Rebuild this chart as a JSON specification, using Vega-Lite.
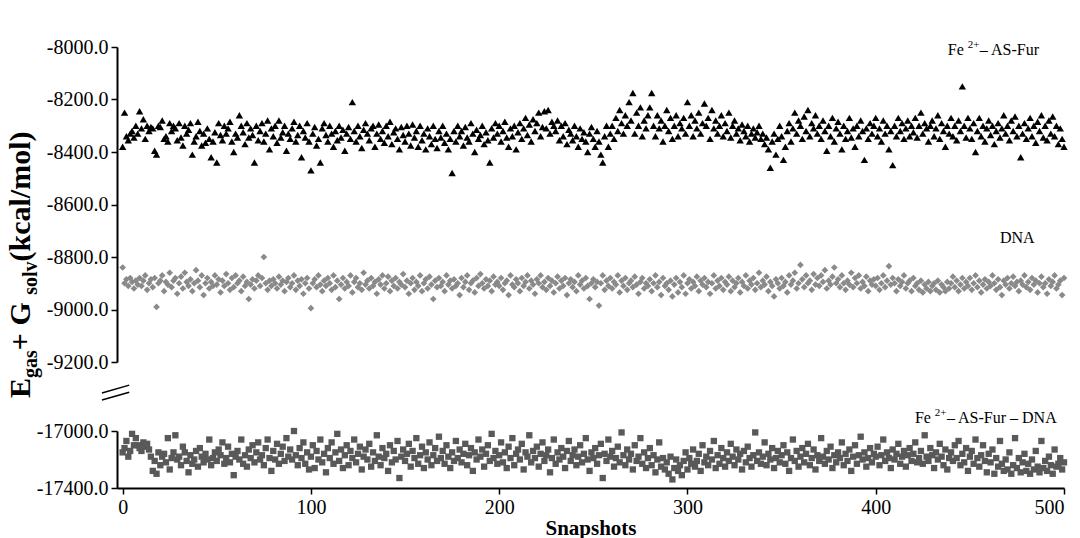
{
"$schema": "https://vega.github.io/schema/vega-lite/v6.json",
"background": "white",
"padding": {"left": 6, "top": 37, "right": 2, "bottom": 0},
"config": {"view": {"stroke": null}, "font": "Liberation Serif",
 "axis": {"domainColor": "black", "domainWidth": 2, "tickColor": "black", "tickWidth": 1.5, "tickSize": 6, "labelFont": "Liberation Serif", "labelFontSize": 20, "labelColor": "black", "grid": false, "titleFont": "Liberation Serif", "titleColor": "black"},
 "text": {"font": "Liberation Serif"}},
"data": {"values": [
{"s":0,"a":-8380,"d":-8840,"c":-17150},{"s":1,"a":-8250,"d":-8900,"c":-17120},{"s":2,"a":-8340,"d":-8885,"c":-17070},{"s":3,"a":-8355,"d":-8910,"c":-17180},{"s":4,"a":-8330,"d":-8880,"c":-17140},{"s":5,"a":-8320,"d":-8895,"c":-17020},{"s":6,"a":-8345,"d":-8920,"c":-17100},{"s":7,"a":-8300,"d":-8890,"c":-17050},{"s":8,"a":-8330,"d":-8905,"c":-17100},{"s":9,"a":-8245,"d":-8880,"c":-17120},
{"s":10,"a":-8310,"d":-8910,"c":-17140},{"s":11,"a":-8275,"d":-8890,"c":-17080},{"s":12,"a":-8350,"d":-8870,"c":-17110},{"s":13,"a":-8300,"d":-8925,"c":-17090},{"s":14,"a":-8320,"d":-8900,"c":-17130},{"s":15,"a":-8305,"d":-8885,"c":-17180},{"s":16,"a":-8310,"d":-8915,"c":-17280},{"s":17,"a":-8395,"d":-8880,"c":-17210},{"s":18,"a":-8410,"d":-8990,"c":-17300},{"s":19,"a":-8300,"d":-8900,"c":-17150},
{"s":20,"a":-8305,"d":-8890,"c":-17240},{"s":21,"a":-8280,"d":-8870,"c":-17180},{"s":22,"a":-8350,"d":-8930,"c":-17160},{"s":23,"a":-8340,"d":-8895,"c":-17220},{"s":24,"a":-8360,"d":-8905,"c":-17050},{"s":25,"a":-8290,"d":-8860,"c":-17270},{"s":26,"a":-8320,"d":-8915,"c":-17190},{"s":27,"a":-8300,"d":-8890,"c":-17150},{"s":28,"a":-8310,"d":-8880,"c":-17030},{"s":29,"a":-8355,"d":-8940,"c":-17200},
{"s":30,"a":-8290,"d":-8900,"c":-17180},{"s":31,"a":-8345,"d":-8875,"c":-17240},{"s":32,"a":-8375,"d":-8920,"c":-17110},{"s":33,"a":-8300,"d":-8860,"c":-17150},{"s":34,"a":-8330,"d":-8895,"c":-17210},{"s":35,"a":-8315,"d":-8910,"c":-17290},{"s":36,"a":-8290,"d":-8885,"c":-17170},{"s":37,"a":-8410,"d":-8930,"c":-17230},{"s":38,"a":-8360,"d":-8900,"c":-17200},{"s":39,"a":-8340,"d":-8850,"c":-17140},
{"s":40,"a":-8285,"d":-8890,"c":-17250},{"s":41,"a":-8320,"d":-8915,"c":-17120},{"s":42,"a":-8375,"d":-8870,"c":-17180},{"s":43,"a":-8330,"d":-8945,"c":-17220},{"s":44,"a":-8365,"d":-8900,"c":-17160},{"s":45,"a":-8310,"d":-8880,"c":-17200},{"s":46,"a":-8350,"d":-8920,"c":-17060},{"s":47,"a":-8420,"d":-8895,"c":-17240},{"s":48,"a":-8360,"d":-8910,"c":-17190},{"s":49,"a":-8325,"d":-8870,"c":-17150},
{"s":50,"a":-8440,"d":-8905,"c":-17210},{"s":51,"a":-8290,"d":-8885,"c":-17130},{"s":52,"a":-8335,"d":-8935,"c":-17170},{"s":53,"a":-8355,"d":-8890,"c":-17080},{"s":54,"a":-8300,"d":-8910,"c":-17230},{"s":55,"a":-8330,"d":-8865,"c":-17190},{"s":56,"a":-8310,"d":-8900,"c":-17110},{"s":57,"a":-8285,"d":-8925,"c":-17220},{"s":58,"a":-8360,"d":-8880,"c":-17160},{"s":59,"a":-8400,"d":-8915,"c":-17310},
{"s":60,"a":-8330,"d":-8870,"c":-17180},{"s":61,"a":-8345,"d":-8900,"c":-17140},{"s":62,"a":-8260,"d":-8890,"c":-17200},{"s":63,"a":-8300,"d":-8930,"c":-17060},{"s":64,"a":-8325,"d":-8875,"c":-17230},{"s":65,"a":-8370,"d":-8910,"c":-17170},{"s":66,"a":-8290,"d":-8895,"c":-17250},{"s":67,"a":-8345,"d":-8960,"c":-17130},{"s":68,"a":-8310,"d":-8905,"c":-17190},{"s":69,"a":-8335,"d":-8885,"c":-17100},
{"s":70,"a":-8440,"d":-8920,"c":-17220},{"s":71,"a":-8300,"d":-8890,"c":-17150},{"s":72,"a":-8355,"d":-8870,"c":-17080},{"s":73,"a":-8320,"d":-8910,"c":-17200},{"s":74,"a":-8290,"d":-8880,"c":-17170},{"s":75,"a":-8360,"d":-8800,"c":-17240},{"s":76,"a":-8330,"d":-8900,"c":-17120},{"s":77,"a":-8280,"d":-8925,"c":-17060},{"s":78,"a":-8390,"d":-8890,"c":-17190},{"s":79,"a":-8310,"d":-8910,"c":-17280},
{"s":80,"a":-8340,"d":-8885,"c":-17140},{"s":81,"a":-8300,"d":-8900,"c":-17200},{"s":82,"a":-8365,"d":-8920,"c":-17090},{"s":83,"a":-8280,"d":-8875,"c":-17230},{"s":84,"a":-8345,"d":-8905,"c":-17160},{"s":85,"a":-8325,"d":-8890,"c":-17110},{"s":86,"a":-8300,"d":-8930,"c":-17210},{"s":87,"a":-8395,"d":-8895,"c":-17050},{"s":88,"a":-8330,"d":-8880,"c":-17180},{"s":89,"a":-8350,"d":-8915,"c":-17130},
{"s":90,"a":-8310,"d":-8900,"c":-17200},{"s":91,"a":-8285,"d":-8870,"c":-17000},{"s":92,"a":-8360,"d":-8925,"c":-17170},{"s":93,"a":-8335,"d":-8890,"c":-17240},{"s":94,"a":-8300,"d":-8910,"c":-17120},{"s":95,"a":-8420,"d":-8885,"c":-17190},{"s":96,"a":-8320,"d":-8940,"c":-17080},{"s":97,"a":-8345,"d":-8900,"c":-17230},{"s":98,"a":-8290,"d":-8880,"c":-17150},{"s":99,"a":-8360,"d":-8920,"c":-17270},
{"s":100,"a":-8470,"d":-8995,"c":-17180},{"s":101,"a":-8330,"d":-8900,"c":-17100},{"s":102,"a":-8305,"d":-8885,"c":-17260},{"s":103,"a":-8375,"d":-8915,"c":-17140},{"s":104,"a":-8350,"d":-8870,"c":-17200},{"s":105,"a":-8440,"d":-8905,"c":-17060},{"s":106,"a":-8310,"d":-8930,"c":-17220},{"s":107,"a":-8290,"d":-8890,"c":-17160},{"s":108,"a":-8335,"d":-8910,"c":-17290},{"s":109,"a":-8360,"d":-8880,"c":-17120},
{"s":110,"a":-8300,"d":-8900,"c":-17190},{"s":111,"a":-8330,"d":-8925,"c":-17080},{"s":112,"a":-8380,"d":-8870,"c":-17230},{"s":113,"a":-8320,"d":-8915,"c":-17150},{"s":114,"a":-8355,"d":-8890,"c":-17020},{"s":115,"a":-8300,"d":-8960,"c":-17210},{"s":116,"a":-8345,"d":-8905,"c":-17130},{"s":117,"a":-8315,"d":-8880,"c":-17260},{"s":118,"a":-8395,"d":-8920,"c":-17170},{"s":119,"a":-8330,"d":-8895,"c":-17100},
{"s":120,"a":-8305,"d":-8910,"c":-17240},{"s":121,"a":-8350,"d":-8870,"c":-17140},{"s":122,"a":-8210,"d":-8935,"c":-17190},{"s":123,"a":-8320,"d":-8895,"c":-17060},{"s":124,"a":-8360,"d":-8880,"c":-17220},{"s":125,"a":-8300,"d":-8915,"c":-17160},{"s":126,"a":-8340,"d":-8900,"c":-17110},{"s":127,"a":-8385,"d":-8925,"c":-17270},{"s":128,"a":-8315,"d":-8860,"c":-17180},{"s":129,"a":-8290,"d":-8905,"c":-17130},
{"s":130,"a":-8330,"d":-8890,"c":-17200},{"s":131,"a":-8355,"d":-8920,"c":-17090},{"s":132,"a":-8310,"d":-8880,"c":-17250},{"s":133,"a":-8300,"d":-8910,"c":-17150},{"s":134,"a":-8380,"d":-8895,"c":-17210},{"s":135,"a":-8330,"d":-8940,"c":-17030},{"s":136,"a":-8295,"d":-8885,"c":-17180},{"s":137,"a":-8350,"d":-8905,"c":-17240},{"s":138,"a":-8320,"d":-8870,"c":-17120},{"s":139,"a":-8365,"d":-8920,"c":-17190},
{"s":140,"a":-8300,"d":-8900,"c":-17160},{"s":141,"a":-8340,"d":-8875,"c":-17280},{"s":142,"a":-8285,"d":-8930,"c":-17100},{"s":143,"a":-8370,"d":-8890,"c":-17220},{"s":144,"a":-8325,"d":-8910,"c":-17140},{"s":145,"a":-8310,"d":-8880,"c":-17200},{"s":146,"a":-8350,"d":-8920,"c":-17070},{"s":147,"a":-8390,"d":-8895,"c":-17330},{"s":148,"a":-8305,"d":-8905,"c":-17180},{"s":149,"a":-8335,"d":-8865,"c":-17130},
{"s":150,"a":-8360,"d":-8915,"c":-17210},{"s":151,"a":-8300,"d":-8890,"c":-17160},{"s":152,"a":-8330,"d":-8940,"c":-17090},{"s":153,"a":-8375,"d":-8900,"c":-17250},{"s":154,"a":-8295,"d":-8880,"c":-17140},{"s":155,"a":-8345,"d":-8925,"c":-17190},{"s":156,"a":-8320,"d":-8895,"c":-17050},{"s":157,"a":-8380,"d":-8910,"c":-17230},{"s":158,"a":-8300,"d":-8870,"c":-17170},{"s":159,"a":-8355,"d":-8930,"c":-17110},
{"s":160,"a":-8330,"d":-8900,"c":-17260},{"s":161,"a":-8390,"d":-8885,"c":-17150},{"s":162,"a":-8310,"d":-8920,"c":-17200},{"s":163,"a":-8340,"d":-8875,"c":-17080},{"s":164,"a":-8370,"d":-8905,"c":-17240},{"s":165,"a":-8300,"d":-8960,"c":-17170},{"s":166,"a":-8350,"d":-8890,"c":-17120},{"s":167,"a":-8385,"d":-8915,"c":-17210},{"s":168,"a":-8320,"d":-8880,"c":-17040},{"s":169,"a":-8345,"d":-8910,"c":-17190},
{"s":170,"a":-8300,"d":-8895,"c":-17140},{"s":171,"a":-8365,"d":-8930,"c":-17230},{"s":172,"a":-8330,"d":-8870,"c":-17100},{"s":173,"a":-8390,"d":-8905,"c":-17180},{"s":174,"a":-8350,"d":-8890,"c":-17260},{"s":175,"a":-8480,"d":-8920,"c":-17150},{"s":176,"a":-8320,"d":-8885,"c":-17210},{"s":177,"a":-8360,"d":-8910,"c":-17070},{"s":178,"a":-8300,"d":-8900,"c":-17190},{"s":179,"a":-8340,"d":-8945,"c":-17130},
{"s":180,"a":-8320,"d":-8880,"c":-17220},{"s":181,"a":-8375,"d":-8915,"c":-17160},{"s":182,"a":-8305,"d":-8895,"c":-17090},{"s":183,"a":-8345,"d":-8870,"c":-17240},{"s":184,"a":-8360,"d":-8925,"c":-17170},{"s":185,"a":-8290,"d":-8900,"c":-17120},{"s":186,"a":-8330,"d":-8890,"c":-17280},{"s":187,"a":-8400,"d":-8935,"c":-17150},{"s":188,"a":-8315,"d":-8880,"c":-17200},{"s":189,"a":-8350,"d":-8910,"c":-17060},
{"s":190,"a":-8335,"d":-8865,"c":-17180},{"s":191,"a":-8300,"d":-8900,"c":-17130},{"s":192,"a":-8370,"d":-8920,"c":-17250},{"s":193,"a":-8325,"d":-8885,"c":-17160},{"s":194,"a":-8355,"d":-8910,"c":-17100},{"s":195,"a":-8440,"d":-8890,"c":-17210},{"s":196,"a":-8310,"d":-8930,"c":-17020},{"s":197,"a":-8345,"d":-8875,"c":-17190},{"s":198,"a":-8290,"d":-8905,"c":-17140},{"s":199,"a":-8330,"d":-8895,"c":-17230},
{"s":200,"a":-8300,"d":-8910,"c":-17170},{"s":201,"a":-8360,"d":-8880,"c":-17080},{"s":202,"a":-8320,"d":-8925,"c":-17220},{"s":203,"a":-8285,"d":-8900,"c":-17150},{"s":204,"a":-8345,"d":-8890,"c":-17260},{"s":205,"a":-8380,"d":-8945,"c":-17110},{"s":206,"a":-8310,"d":-8870,"c":-17190},{"s":207,"a":-8340,"d":-8905,"c":-17050},{"s":208,"a":-8300,"d":-8915,"c":-17240},{"s":209,"a":-8390,"d":-8885,"c":-17160},
{"s":210,"a":-8325,"d":-8900,"c":-17130},{"s":211,"a":-8290,"d":-8930,"c":-17200},{"s":212,"a":-8350,"d":-8880,"c":-17090},{"s":213,"a":-8310,"d":-8910,"c":-17270},{"s":214,"a":-8270,"d":-8895,"c":-17150},{"s":215,"a":-8335,"d":-8870,"c":-17180},{"s":216,"a":-8295,"d":-8920,"c":-17030},{"s":217,"a":-8360,"d":-8890,"c":-17220},{"s":218,"a":-8275,"d":-8905,"c":-17140},{"s":219,"a":-8320,"d":-8940,"c":-17190},
{"s":220,"a":-8290,"d":-8885,"c":-17110},{"s":221,"a":-8250,"d":-8900,"c":-17250},{"s":222,"a":-8340,"d":-8870,"c":-17160},{"s":223,"a":-8305,"d":-8915,"c":-17080},{"s":224,"a":-8245,"d":-8895,"c":-17210},{"s":225,"a":-8310,"d":-8925,"c":-17170},{"s":226,"a":-8240,"d":-8880,"c":-17130},{"s":227,"a":-8330,"d":-8910,"c":-17290},{"s":228,"a":-8285,"d":-8890,"c":-17190},{"s":229,"a":-8300,"d":-8935,"c":-17060},
{"s":230,"a":-8320,"d":-8900,"c":-17230},{"s":231,"a":-8280,"d":-8875,"c":-17150},{"s":232,"a":-8355,"d":-8920,"c":-17200},{"s":233,"a":-8300,"d":-8890,"c":-17120},{"s":234,"a":-8340,"d":-8910,"c":-17180},{"s":235,"a":-8290,"d":-8880,"c":-17260},{"s":236,"a":-8370,"d":-8945,"c":-17140},{"s":237,"a":-8315,"d":-8900,"c":-17070},{"s":238,"a":-8330,"d":-8885,"c":-17210},{"s":239,"a":-8355,"d":-8915,"c":-17170},
{"s":240,"a":-8300,"d":-8895,"c":-17130},{"s":241,"a":-8340,"d":-8930,"c":-17240},{"s":242,"a":-8380,"d":-8870,"c":-17180},{"s":243,"a":-8310,"d":-8905,"c":-17100},{"s":244,"a":-8350,"d":-8890,"c":-17220},{"s":245,"a":-8325,"d":-8920,"c":-17160},{"s":246,"a":-8360,"d":-8880,"c":-17050},{"s":247,"a":-8400,"d":-8910,"c":-17200},{"s":248,"a":-8330,"d":-8960,"c":-17280},{"s":249,"a":-8305,"d":-8900,"c":-17150},
{"s":250,"a":-8350,"d":-8885,"c":-17190},{"s":251,"a":-8380,"d":-8915,"c":-17120},{"s":252,"a":-8320,"d":-8895,"c":-17230},{"s":253,"a":-8360,"d":-8985,"c":-17170},{"s":254,"a":-8410,"d":-8900,"c":-17090},{"s":255,"a":-8440,"d":-8870,"c":-17330},{"s":256,"a":-8340,"d":-8925,"c":-17160},{"s":257,"a":-8300,"d":-8890,"c":-17210},{"s":258,"a":-8380,"d":-8910,"c":-17060},{"s":259,"a":-8330,"d":-8880,"c":-17180},
{"s":260,"a":-8300,"d":-8920,"c":-17140},{"s":261,"a":-8350,"d":-8895,"c":-17250},{"s":262,"a":-8270,"d":-8905,"c":-17190},{"s":263,"a":-8320,"d":-8870,"c":-17110},{"s":264,"a":-8240,"d":-8935,"c":-17220},{"s":265,"a":-8290,"d":-8890,"c":-17010},{"s":266,"a":-8330,"d":-8910,"c":-17170},{"s":267,"a":-8260,"d":-8880,"c":-17240},{"s":268,"a":-8300,"d":-8925,"c":-17130},{"s":269,"a":-8210,"d":-8900,"c":-17200},
{"s":270,"a":-8280,"d":-8890,"c":-17160},{"s":271,"a":-8175,"d":-8915,"c":-17270},{"s":272,"a":-8330,"d":-8875,"c":-17100},{"s":273,"a":-8250,"d":-8905,"c":-17210},{"s":274,"a":-8300,"d":-8940,"c":-17180},{"s":275,"a":-8230,"d":-8895,"c":-17050},{"s":276,"a":-8340,"d":-8880,"c":-17230},{"s":277,"a":-8280,"d":-8920,"c":-17150},{"s":278,"a":-8310,"d":-8900,"c":-17260},{"s":279,"a":-8260,"d":-8910,"c":-17190},
{"s":280,"a":-8230,"d":-8885,"c":-17120},{"s":281,"a":-8175,"d":-8930,"c":-17240},{"s":282,"a":-8300,"d":-8900,"c":-17170},{"s":283,"a":-8340,"d":-8870,"c":-17290},{"s":284,"a":-8260,"d":-8915,"c":-17200},{"s":285,"a":-8310,"d":-8895,"c":-17080},{"s":286,"a":-8280,"d":-8945,"c":-17250},{"s":287,"a":-8360,"d":-8880,"c":-17190},{"s":288,"a":-8300,"d":-8910,"c":-17270},{"s":289,"a":-8240,"d":-8900,"c":-17220},
{"s":290,"a":-8320,"d":-8925,"c":-17300},{"s":291,"a":-8270,"d":-8890,"c":-17180},{"s":292,"a":-8350,"d":-8950,"c":-17340},{"s":293,"a":-8300,"d":-8905,"c":-17260},{"s":294,"a":-8260,"d":-8880,"c":-17200},{"s":295,"a":-8340,"d":-8935,"c":-17280},{"s":296,"a":-8290,"d":-8895,"c":-17240},{"s":297,"a":-8310,"d":-8915,"c":-17310},{"s":298,"a":-8270,"d":-8870,"c":-17210},{"s":299,"a":-8330,"d":-8940,"c":-17150},
{"s":300,"a":-8210,"d":-8900,"c":-17270},{"s":301,"a":-8300,"d":-8885,"c":-17190},{"s":302,"a":-8260,"d":-8920,"c":-17230},{"s":303,"a":-8340,"d":-8895,"c":-17130},{"s":304,"a":-8280,"d":-8910,"c":-17250},{"s":305,"a":-8310,"d":-8875,"c":-17210},{"s":306,"a":-8250,"d":-8930,"c":-17160},{"s":307,"a":-8330,"d":-8890,"c":-17280},{"s":308,"a":-8290,"d":-8905,"c":-17100},{"s":309,"a":-8215,"d":-8880,"c":-17220},
{"s":310,"a":-8300,"d":-8915,"c":-17180},{"s":311,"a":-8270,"d":-8895,"c":-17240},{"s":312,"a":-8350,"d":-8940,"c":-17140},{"s":313,"a":-8240,"d":-8900,"c":-17200},{"s":314,"a":-8310,"d":-8870,"c":-17070},{"s":315,"a":-8280,"d":-8920,"c":-17260},{"s":316,"a":-8330,"d":-8890,"c":-17170},{"s":317,"a":-8300,"d":-8910,"c":-17230},{"s":318,"a":-8260,"d":-8880,"c":-17120},{"s":319,"a":-8340,"d":-8925,"c":-17190},
{"s":320,"a":-8290,"d":-8895,"c":-17250},{"s":321,"a":-8320,"d":-8905,"c":-17150},{"s":322,"a":-8250,"d":-8875,"c":-17210},{"s":323,"a":-8345,"d":-8930,"c":-17090},{"s":324,"a":-8300,"d":-8890,"c":-17180},{"s":325,"a":-8280,"d":-8915,"c":-17240},{"s":326,"a":-8330,"d":-8900,"c":-17130},{"s":327,"a":-8310,"d":-8880,"c":-17200},{"s":328,"a":-8355,"d":-8935,"c":-17160},{"s":329,"a":-8295,"d":-8895,"c":-17270},
{"s":330,"a":-8320,"d":-8910,"c":-17140},{"s":331,"a":-8340,"d":-8870,"c":-17220},{"s":332,"a":-8300,"d":-8920,"c":-17110},{"s":333,"a":-8360,"d":-8890,"c":-17190},{"s":334,"a":-8330,"d":-8905,"c":-17250},{"s":335,"a":-8310,"d":-8880,"c":-17170},{"s":336,"a":-8345,"d":-8925,"c":-17010},{"s":337,"a":-8325,"d":-8900,"c":-17210},{"s":338,"a":-8300,"d":-8860,"c":-17150},{"s":339,"a":-8350,"d":-8915,"c":-17230},
{"s":340,"a":-8330,"d":-8890,"c":-17180},{"s":341,"a":-8370,"d":-8905,"c":-17080},{"s":342,"a":-8345,"d":-8875,"c":-17240},{"s":343,"a":-8390,"d":-8930,"c":-17160},{"s":344,"a":-8460,"d":-8895,"c":-17200},{"s":345,"a":-8360,"d":-8910,"c":-17120},{"s":346,"a":-8330,"d":-8950,"c":-17260},{"s":347,"a":-8410,"d":-8885,"c":-17190},{"s":348,"a":-8350,"d":-8900,"c":-17140},{"s":349,"a":-8300,"d":-8920,"c":-17220},
{"s":350,"a":-8340,"d":-8880,"c":-17170},{"s":351,"a":-8430,"d":-8910,"c":-17100},{"s":352,"a":-8380,"d":-8895,"c":-17230},{"s":353,"a":-8320,"d":-8935,"c":-17150},{"s":354,"a":-8290,"d":-8870,"c":-17280},{"s":355,"a":-8360,"d":-8905,"c":-17190},{"s":356,"a":-8310,"d":-8890,"c":-17060},{"s":357,"a":-8250,"d":-8860,"c":-17210},{"s":358,"a":-8330,"d":-8920,"c":-17140},{"s":359,"a":-8280,"d":-8900,"c":-17250},
{"s":360,"a":-8300,"d":-8830,"c":-17180},{"s":361,"a":-8350,"d":-8885,"c":-17120},{"s":362,"a":-8265,"d":-8915,"c":-17220},{"s":363,"a":-8320,"d":-8870,"c":-17160},{"s":364,"a":-8240,"d":-8900,"c":-17090},{"s":365,"a":-8340,"d":-8890,"c":-17240},{"s":366,"a":-8290,"d":-8925,"c":-17190},{"s":367,"a":-8310,"d":-8865,"c":-17130},{"s":368,"a":-8260,"d":-8905,"c":-17270},{"s":369,"a":-8330,"d":-8880,"c":-17170},
{"s":370,"a":-8300,"d":-8910,"c":-17210},{"s":371,"a":-8350,"d":-8870,"c":-17050},{"s":372,"a":-8280,"d":-8895,"c":-17180},{"s":373,"a":-8320,"d":-8850,"c":-17230},{"s":374,"a":-8395,"d":-8920,"c":-17140},{"s":375,"a":-8300,"d":-8890,"c":-17200},{"s":376,"a":-8340,"d":-8905,"c":-17110},{"s":377,"a":-8270,"d":-8875,"c":-17260},{"s":378,"a":-8360,"d":-8840,"c":-17170},{"s":379,"a":-8310,"d":-8900,"c":-17220},
{"s":380,"a":-8285,"d":-8885,"c":-17150},{"s":381,"a":-8330,"d":-8915,"c":-17190},{"s":382,"a":-8390,"d":-8870,"c":-17080},{"s":383,"a":-8300,"d":-8900,"c":-17240},{"s":384,"a":-8350,"d":-8925,"c":-17160},{"s":385,"a":-8320,"d":-8890,"c":-17210},{"s":386,"a":-8270,"d":-8905,"c":-17130},{"s":387,"a":-8345,"d":-8860,"c":-17280},{"s":388,"a":-8310,"d":-8915,"c":-17180},{"s":389,"a":-8380,"d":-8880,"c":-17100},
{"s":390,"a":-8300,"d":-8900,"c":-17230},{"s":391,"a":-8340,"d":-8870,"c":-17170},{"s":392,"a":-8280,"d":-8920,"c":-17040},{"s":393,"a":-8320,"d":-8895,"c":-17200},{"s":394,"a":-8430,"d":-8910,"c":-17150},{"s":395,"a":-8310,"d":-8875,"c":-17250},{"s":396,"a":-8350,"d":-8930,"c":-17190},{"s":397,"a":-8290,"d":-8890,"c":-17120},{"s":398,"a":-8330,"d":-8905,"c":-17220},{"s":399,"a":-8300,"d":-8885,"c":-17160},
{"s":400,"a":-8270,"d":-8910,"c":-17180},{"s":401,"a":-8340,"d":-8880,"c":-17110},{"s":402,"a":-8310,"d":-8925,"c":-17240},{"s":403,"a":-8360,"d":-8900,"c":-17170},{"s":404,"a":-8280,"d":-8870,"c":-17060},{"s":405,"a":-8330,"d":-8915,"c":-17210},{"s":406,"a":-8300,"d":-8890,"c":-17150},{"s":407,"a":-8390,"d":-8835,"c":-17190},{"s":408,"a":-8320,"d":-8905,"c":-17260},{"s":409,"a":-8450,"d":-8880,"c":-17130},
{"s":410,"a":-8300,"d":-8900,"c":-17200},{"s":411,"a":-8340,"d":-8930,"c":-17160},{"s":412,"a":-8270,"d":-8885,"c":-17090},{"s":413,"a":-8320,"d":-8910,"c":-17230},{"s":414,"a":-8290,"d":-8895,"c":-17180},{"s":415,"a":-8350,"d":-8870,"c":-17140},{"s":416,"a":-8310,"d":-8920,"c":-17250},{"s":417,"a":-8280,"d":-8900,"c":-17170},{"s":418,"a":-8340,"d":-8890,"c":-17120},{"s":419,"a":-8300,"d":-8930,"c":-17210},
{"s":420,"a":-8325,"d":-8880,"c":-17160},{"s":421,"a":-8270,"d":-8910,"c":-17080},{"s":422,"a":-8345,"d":-8900,"c":-17220},{"s":423,"a":-8300,"d":-8925,"c":-17190},{"s":424,"a":-8250,"d":-8890,"c":-17140},{"s":425,"a":-8330,"d":-8935,"c":-17230},{"s":426,"a":-8290,"d":-8905,"c":-17030},{"s":427,"a":-8310,"d":-8920,"c":-17180},{"s":428,"a":-8360,"d":-8895,"c":-17210},{"s":429,"a":-8300,"d":-8930,"c":-17120},
{"s":430,"a":-8280,"d":-8910,"c":-17170},{"s":431,"a":-8340,"d":-8900,"c":-17260},{"s":432,"a":-8310,"d":-8925,"c":-17150},{"s":433,"a":-8260,"d":-8890,"c":-17200},{"s":434,"a":-8350,"d":-8935,"c":-17090},{"s":435,"a":-8290,"d":-8905,"c":-17180},{"s":436,"a":-8320,"d":-8915,"c":-17240},{"s":437,"a":-8380,"d":-8930,"c":-17130},{"s":438,"a":-8300,"d":-8895,"c":-17270},{"s":439,"a":-8330,"d":-8920,"c":-17190},
{"s":440,"a":-8270,"d":-8900,"c":-17150},{"s":441,"a":-8340,"d":-8875,"c":-17210},{"s":442,"a":-8300,"d":-8915,"c":-17100},{"s":443,"a":-8355,"d":-8890,"c":-17190},{"s":444,"a":-8280,"d":-8930,"c":-17070},{"s":445,"a":-8320,"d":-8905,"c":-17240},{"s":446,"a":-8150,"d":-8880,"c":-17160},{"s":447,"a":-8300,"d":-8920,"c":-17220},{"s":448,"a":-8345,"d":-8895,"c":-17120},{"s":449,"a":-8270,"d":-8910,"c":-17280},
{"s":450,"a":-8310,"d":-8880,"c":-17180},{"s":451,"a":-8350,"d":-8925,"c":-17140},{"s":452,"a":-8290,"d":-8900,"c":-17230},{"s":453,"a":-8400,"d":-8870,"c":-17060},{"s":454,"a":-8320,"d":-8915,"c":-17190},{"s":455,"a":-8270,"d":-8890,"c":-17250},{"s":456,"a":-8340,"d":-8935,"c":-17170},{"s":457,"a":-8300,"d":-8905,"c":-17100},{"s":458,"a":-8360,"d":-8885,"c":-17210},{"s":459,"a":-8310,"d":-8920,"c":-17290},
{"s":460,"a":-8280,"d":-8895,"c":-17160},{"s":461,"a":-8335,"d":-8910,"c":-17220},{"s":462,"a":-8300,"d":-8870,"c":-17130},{"s":463,"a":-8370,"d":-8900,"c":-17300},{"s":464,"a":-8320,"d":-8925,"c":-17190},{"s":465,"a":-8290,"d":-8885,"c":-17250},{"s":466,"a":-8345,"d":-8915,"c":-17070},{"s":467,"a":-8310,"d":-8945,"c":-17230},{"s":468,"a":-8260,"d":-8890,"c":-17280},{"s":469,"a":-8330,"d":-8905,"c":-17200},
{"s":470,"a":-8300,"d":-8880,"c":-17270},{"s":471,"a":-8355,"d":-8920,"c":-17150},{"s":472,"a":-8280,"d":-8900,"c":-17300},{"s":473,"a":-8320,"d":-8875,"c":-17240},{"s":474,"a":-8265,"d":-8910,"c":-17050},{"s":475,"a":-8340,"d":-8895,"c":-17260},{"s":476,"a":-8300,"d":-8930,"c":-17190},{"s":477,"a":-8420,"d":-8890,"c":-17290},{"s":478,"a":-8330,"d":-8905,"c":-17220},{"s":479,"a":-8290,"d":-8870,"c":-17160},
{"s":480,"a":-8350,"d":-8915,"c":-17280},{"s":481,"a":-8310,"d":-8895,"c":-17230},{"s":482,"a":-8270,"d":-8925,"c":-17300},{"s":483,"a":-8340,"d":-8880,"c":-17200},{"s":484,"a":-8300,"d":-8905,"c":-17270},{"s":485,"a":-8365,"d":-8890,"c":-17140},{"s":486,"a":-8285,"d":-8935,"c":-17250},{"s":487,"a":-8320,"d":-8900,"c":-17290},{"s":488,"a":-8260,"d":-8875,"c":-17070},{"s":489,"a":-8345,"d":-8915,"c":-17260},
{"s":490,"a":-8300,"d":-8900,"c":-17210},{"s":491,"a":-8355,"d":-8940,"c":-17280},{"s":492,"a":-8280,"d":-8885,"c":-17180},{"s":493,"a":-8330,"d":-8910,"c":-17240},{"s":494,"a":-8265,"d":-8895,"c":-17300},{"s":495,"a":-8340,"d":-8870,"c":-17130},{"s":496,"a":-8300,"d":-8920,"c":-17250},{"s":497,"a":-8370,"d":-8905,"c":-17230},{"s":498,"a":-8310,"d":-8890,"c":-17190},{"s":499,"a":-8350,"d":-8945,"c":-17270},
{"s":500,"a":-8380,"d":-8880,"c":-17220}
]},
"spacing": 69,
"bounds": "flush",
"vconcat": [
 {"width": 947, "height": 315,
  "layer": [
   {"mark": {"type": "point", "shape": "triangle-up", "filled": true, "color": "black", "size": 55, "opacity": 1},
    "encoding": {
     "x": {"field": "s", "type": "quantitative", "scale": {"domain": [-3, 500], "nice": false, "zero": false}, "axis": null},
     "y": {"field": "a", "type": "quantitative", "scale": {"domain": [-9200, -8000], "nice": false, "zero": false},
           "axis": {"values": [-9200, -9000, -8800, -8600, -8400, -8200, -8000], "labelExpr": "datum.value + '.0'", "labelFont": "Liberation Serif", "labelPadding": 3, "title": null}}}},
   {"mark": {"type": "point", "shape": "diamond", "filled": true, "color": "#8a8a8a", "size": 45, "opacity": 1},
    "encoding": {"x": {"field": "s", "type": "quantitative"}, "y": {"field": "d", "type": "quantitative"}}},
   {"data": {"values": [{}]}, "mark": {"type": "text", "text": "Fe", "font": "Liberation Serif", "align": "left", "baseline": "middle", "fontSize": 16, "color": "black"},
    "encoding": {"x": {"datum": 438.3}, "y": {"datum": -8011}}},
   {"data": {"values": [{}]}, "mark": {"type": "text", "text": "2+", "font": "Liberation Serif", "align": "left", "baseline": "middle", "fontSize": 11, "color": "black"},
    "encoding": {"x": {"datum": 448.9}, "y": {"datum": -7992}}},
   {"data": {"values": [{}]}, "mark": {"type": "text", "text": "– AS-Fur", "font": "Liberation Serif", "align": "left", "baseline": "middle", "fontSize": 16, "color": "black"},
    "encoding": {"x": {"datum": 455.3}, "y": {"datum": -8011}}},
   {"data": {"values": [{}]}, "mark": {"type": "text", "text": "DNA", "font": "Liberation Serif", "align": "left", "baseline": "middle", "fontSize": 16, "color": "black"},
    "encoding": {"x": {"datum": 466}, "y": {"datum": -8728}}},
   {"data": {"values": [{}]}, "mark": {"type": "text", "text": "E", "font": "Liberation Serif", "angle": 270, "align": "left", "baseline": "alphabetic", "fontSize": 30, "fontWeight": "bold", "color": "black"},
    "encoding": {"x": {"datum": -49.2}, "y": {"datum": -9337.1}}},
   {"data": {"values": [{}]}, "mark": {"type": "text", "text": "gas", "font": "Liberation Serif", "angle": 270, "align": "left", "baseline": "alphabetic", "fontSize": 20, "fontWeight": "bold", "color": "black"},
    "encoding": {"x": {"datum": -45.5}, "y": {"datum": -9261.0}}},
   {"data": {"values": [{}]}, "mark": {"type": "text", "text": " + G", "font": "Liberation Serif", "angle": 270, "align": "left", "baseline": "alphabetic", "fontSize": 30, "fontWeight": "bold", "color": "black"},
    "encoding": {"x": {"datum": -49.2}, "y": {"datum": -9155.0}}},
   {"data": {"values": [{}]}, "mark": {"type": "text", "text": "solv", "font": "Liberation Serif", "angle": 270, "align": "left", "baseline": "alphabetic", "fontSize": 20, "fontWeight": "bold", "color": "black"},
    "encoding": {"x": {"datum": -45.5}, "y": {"datum": -8944.0}}},
   {"data": {"values": [{}]}, "mark": {"type": "text", "text": " (kcal/mol)", "font": "Liberation Serif", "angle": 270, "align": "left", "baseline": "alphabetic", "fontSize": 30, "fontWeight": "bold", "color": "black"},
    "encoding": {"x": {"datum": -49.2}, "y": {"datum": -8817.1}}},
   {"data": {"values": [{}]}, "mark": {"type": "rule", "color": "black", "strokeWidth": 1.5},
    "encoding": {"x": {"datum": -11}, "x2": {"datum": 3.5}, "y": {"datum": -9318}, "y2": {"datum": -9288}}},
   {"data": {"values": [{}]}, "mark": {"type": "rule", "color": "black", "strokeWidth": 1.5},
    "encoding": {"x": {"datum": -11}, "x2": {"datum": 3.5}, "y": {"datum": -9345}, "y2": {"datum": -9315}}}
  ]},
 {"width": 947, "height": 57,
  "layer": [
   {"mark": {"type": "point", "shape": "square", "filled": true, "color": "#595959", "size": 40, "opacity": 1},
    "encoding": {
     "x": {"field": "s", "type": "quantitative", "scale": {"domain": [-3, 500], "nice": false, "zero": false},
           "axis": {"values": [0, 100, 200, 300, 400, 500], "labelFont": "Liberation Serif", "title": "Snapshots", "titleFontSize": 21, "titleFontWeight": "bold", "labelPadding": 3, "titlePadding": 0}},
     "y": {"field": "c", "type": "quantitative", "scale": {"domain": [-17400, -17000], "nice": false, "zero": false},
           "axis": {"values": [-17400, -17200, -17000], "labelExpr": "datum.value + '.0'", "labelFont": "Liberation Serif", "labelPadding": 3, "title": null}}}},
   {"data": {"values": [{}]}, "mark": {"type": "text", "text": "Fe", "font": "Liberation Serif", "align": "left", "baseline": "middle", "fontSize": 16, "color": "black"},
    "encoding": {"x": {"datum": 420.8}, "y": {"datum": -16909}}},
   {"data": {"values": [{}]}, "mark": {"type": "text", "text": "2+", "font": "Liberation Serif", "align": "left", "baseline": "middle", "fontSize": 11, "color": "black"},
    "encoding": {"x": {"datum": 431.4}, "y": {"datum": -16874}}},
   {"data": {"values": [{}]}, "mark": {"type": "text", "text": "– AS-Fur – DNA", "font": "Liberation Serif", "align": "left", "baseline": "middle", "fontSize": 16, "color": "black"},
    "encoding": {"x": {"datum": 437.8}, "y": {"datum": -16909}}}
  ]}
]
}
